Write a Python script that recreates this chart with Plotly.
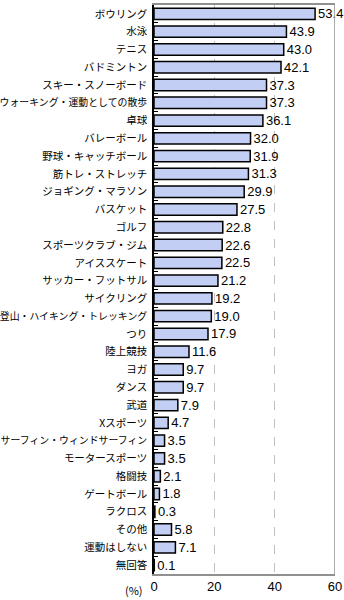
import plotly.graph_objects as go

categories = ["ボウリング", "水泳", "テニス", "バドミントン", "スキー・スノーボード",
              "ウォーキング・運動としての散歩", "卓球", "バレーボール", "野球・キャッチボール",
              "筋トレ・ストレッチ", "ジョギング・マラソン", "バスケット", "ゴルフ",
              "スポーツクラブ・ジム", "アイススケート", "サッカー・フットサル", "サイクリング",
              "登山・ハイキング・トレッキング", "つり", "陸上競技", "ヨガ", "ダンス", "武道",
              "Xスポーツ", "サーフィン・ウィンドサーフィン", "モータースポーツ", "格闘技",
              "ゲートボール", "ラクロス", "その他", "運動はしない", "無回答"]
values = [53.4, 43.9, 43.0, 42.1, 37.3, 37.3, 36.1, 32.0, 31.9, 31.3, 29.9, 27.5, 22.8,
          22.6, 22.5, 21.2, 19.2, 19.0, 17.9, 11.6, 9.7, 9.7, 7.9, 4.7, 3.5, 3.5, 2.1,
          1.8, 0.3, 5.8, 7.1, 0.1]
x_ticks = [0, 20, 40, 60]
unit_label = "(%)"


def tick_label(name):
    # shrink only the longest labels so they fit the left margin
    if len(name) >= 14:
        return f"<span style='font-size:9.9px'>{name}</span>"
    return name


fig = go.Figure()
fig.add_trace(go.Bar(
    y=categories, x=values, orientation="h",
    marker=dict(color="#c3cef5", line=dict(color="#000000", width=1.5)),
    width=0.64,
    text=[f"{v:.1f}" for v in values], textposition="outside", constraintext="none",
    textfont=dict(family="Liberation Sans, Arial", size=13, color="#000000"),
    cliponaxis=False, hoverinfo="skip",
))

fig.update_layout(
    width=344, height=600,
    margin=dict(l=154, r=9, t=5, b=26, autoexpand=False),
    paper_bgcolor="white", plot_bgcolor="white",
    showlegend=False,
    font=dict(family="Noto Sans CJK JP", size=10, color="#000000"),
    shapes=[dict(type="line", xref="x", yref="paper", x0=60, x1=60, y0=0, y1=1,
                 line=dict(color="#909090", width=1.5))],
    annotations=[dict(text=unit_label, xref="paper", yref="paper", x=-0.05, y=0,
                      yshift=-16, xanchor="right", yanchor="middle", showarrow=False,
                      font=dict(family="Noto Sans CJK JP", size=11))],
)
fig.update_xaxes(range=[0, 60], tickvals=x_ticks, showgrid=True,
                 gridcolor="#c0c0c0", griddash="dash", gridwidth=1,
                 showline=True, linecolor="#909090", linewidth=1.5, mirror=True,
                 ticks="", zeroline=False, automargin=False,
                 tickfont=dict(family="Liberation Sans, Arial", size=13))
fig.update_yaxes(categoryorder="array", categoryarray=categories, autorange="reversed",
                 tickmode="array", tickvals=categories,
                 ticktext=[tick_label(c) for c in categories],
                 showline=True, linecolor="#000000", linewidth=1.5,
                 ticks="inside", ticklen=4, tickcolor="#000000", tickwidth=1,
                 tickson="boundaries", showgrid=False, ticklabelstandoff=3,
                 automargin=False, tickfont=dict(size=10.5))

fig.write_html("out.html")
